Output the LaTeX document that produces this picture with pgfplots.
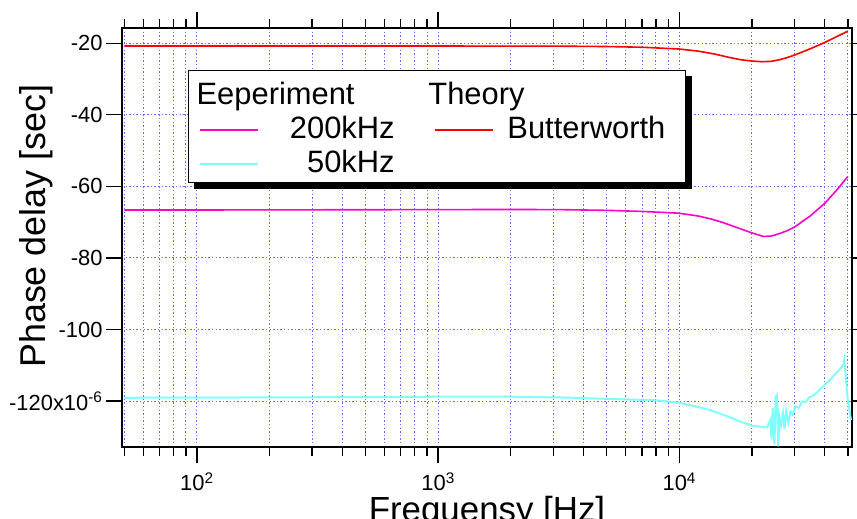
\documentclass[border=0pt]{standalone}
\usepackage{pgfplots}
\pgfplotsset{compat=1.18}
\usepackage{fontspec}
\setmainfont{Liberation Sans}
\definecolor{gridblue}{RGB}{105,105,255}
\definecolor{cmag}{RGB}{255,0,200}
\definecolor{ccyan}{RGB}{128,255,255}
\begin{document}
\begin{tikzpicture}
\begin{axis}[
  scale only axis, width=730bp, height=419bp,
  xmode=log, xmin=48.9, xmax=52000,
  ymin=-132.86, ymax=-15.72,
  axis line style={line width=1.4bp},
  tick style={black, line width=1.3bp},
  minor tick style={black, line width=1.3bp},
  tick align=outside,
  major tick length=16bp, minor tick length=9bp,
  xtick={100,1000,10000},
  minor xtick={50,60,70,80,90,200,300,400,500,600,700,800,900,2000,3000,4000,5000,6000,7000,8000,9000,20000,30000,40000,50000},
  xticklabels={10\textsuperscript{2},10\textsuperscript{3},10\textsuperscript{4}},
  ytick={-120,-100,-80,-60,-40,-20},
  minor ytick={},
  yticklabels={-120x10\textsuperscript{-6},-100,-80,-60,-40,-20},
  tick label style={font=\fontsize{22}{25}\selectfont},
  xticklabel style={yshift=-6bp},
  xmajorgrids, xminorgrids, ymajorgrids,
  major grid style={dash pattern=on 1.4bp off 2.2bp, gridblue, line width=0.9bp},
  minor grid style={dash pattern=on 1.4bp off 2.2bp, gridblue, line width=0.9bp},
  ylabel={Phase delay [sec]},
  ylabel style={font=\fontsize{36}{40}\selectfont, at={(axis description cs:-0.117,0.527)}, anchor=center},
  xlabel={Frequensy [Hz]},
  xlabel style={font=\fontsize{35}{40}\selectfont, at={(axis description cs:0.5,-0.178)}, anchor=base},
  legend columns=2,
  legend style={at={(axis description cs:0.0904,0.8998)}, anchor=north west,
    name=leg, draw=black, line width=1.3bp, fill=white,
    font=\fontsize{31}{36}\selectfont, inner xsep=10bp, inner ysep=5bp,
    column sep=0pt, row sep=0pt, cells={anchor=base west},
    nodes={inner sep=0pt, text height=29bp, text depth=5bp}},
]
% 50kHz experiment
\addplot[ccyan, line width=2bp, forget plot] coordinates {
(50,-119.1) (100,-119.05) (200,-119.0) (500,-118.9) (1000,-118.8) (2000,-118.8)
(3200,-119.0) (5000,-119.4) (8000,-119.8) (10000,-120.5) (12000,-121.7)
(13500,-122.6) (16000,-124.4) (18000,-125.8) (20000,-126.9) (23100,-127.4)
(23900,-125.2) (24100,-130.8) (24400,-121.9) (24800,-132.2) (25100,-118.8)
(25400,-118.3) (25700,-132.7) (26000,-124.5) (26400,-126.9) (26900,-123.3)
(27300,-127.8) (27700,-122.9) (28300,-126.1) (28900,-122.9) (29500,-123.8)
(30300,-121.5) (31300,-121.9) (32300,-120.1) (33500,-120.3) (34500,-119.0)
(35500,-118.7) (37000,-117.8) (40000,-115.5) (42000,-114.2) (44000,-112.7)
(46000,-111.3) (47900,-109.9) (48300,-108.5) (49000,-113.0) (49900,-119.7)
(50500,-122.0) (51500,-125.3)
};
% 200kHz experiment
\addplot[cmag, line width=1.6bp, forget plot] coordinates {
(50,-66.6) (100,-66.6) (300,-66.55) (1000,-66.5) (2000,-66.45) (3200,-66.5)
(5000,-66.7) (7000,-67.0) (10000,-67.5) (12000,-68.3) (13500,-69.1)
(15000,-70.0) (17000,-71.3) (20000,-73.0) (22300,-74.0) (24000,-73.9)
(26000,-73.2) (28000,-72.4) (30000,-71.4) (35000,-68.2) (40000,-64.8)
(45000,-61.0) (50000,-57.2)
};
% Butterworth theory
\addplot[red, line width=1.6bp, forget plot] coordinates {
(50,-20.75) (100,-20.75) (200,-20.75) (500,-20.75) (1000,-20.76) (2000,-20.78)
(3200,-20.8) (5000,-20.9) (7000,-21.1) (10000,-21.6) (12000,-22.2)
(14000,-23.0) (16000,-23.9) (18000,-24.6) (20000,-24.95) (22000,-25.15)
(24000,-25.05) (26000,-24.6) (28000,-24.0) (30000,-23.3) (35000,-21.5)
(40000,-19.8) (45000,-18.1) (50000,-16.6)
};
\addlegendimage{legend image code/.code={}}
\addlegendentry{\makebox[175bp][l]{\hspace*{-62bp}Eeperiment}}
\addlegendimage{legend image code/.code={}}
\addlegendentry{\makebox[182bp][l]{\hspace*{-65bp}Theory}}
\addlegendimage{legend image code/.code={\draw[cmag, line width=1.8bp] (0bp,9bp) -- (58bp,9bp);}}
\addlegendentry{\makebox[175bp][r]{200kHz\hspace*{39bp}}}
\addlegendimage{legend image code/.code={\draw[red, line width=1.8bp] (0bp,9bp) -- (58bp,9bp);}}
\addlegendentry{\makebox[182bp][l]{\hspace*{14bp}Butterworth}}
\addlegendimage{legend image code/.code={\draw[ccyan, line width=2bp] (0bp,9bp) -- (58bp,9bp);}}
\addlegendentry{\makebox[175bp][r]{50kHz\hspace*{39bp}}}
\end{axis}
\fill[black] ([yshift=-6bp]leg.north east) rectangle ([xshift=6bp,yshift=-6bp]leg.south east);
\fill[black] ([xshift=6bp]leg.south west) rectangle ([xshift=6bp,yshift=-6bp]leg.south east);
\pgfresetboundingbox
\path[use as bounding box] (-122bp,-72bp) rectangle (735bp,447bp);
\end{tikzpicture}
\end{document}
